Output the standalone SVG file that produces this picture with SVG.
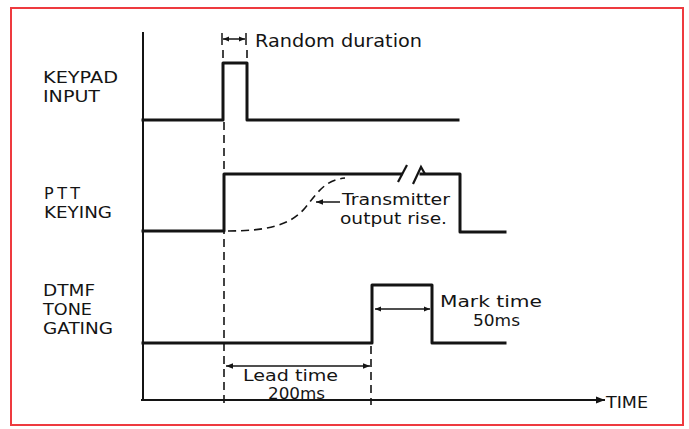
<svg xmlns="http://www.w3.org/2000/svg" width="689" height="429" viewBox="0 0 689 429">
<defs>
<style>
.t{font-family:"DejaVu Sans","Liberation Sans",sans-serif;font-size:16px;fill:#141414;}
.sig{fill:none;stroke:#141414;stroke-width:3;stroke-linejoin:round;stroke-linecap:square;}
.ax{fill:none;stroke:#141414;stroke-width:2;}
.dash{fill:none;stroke:#141414;stroke-width:1.6;stroke-dasharray:8 5;}
.dim{fill:none;stroke:#141414;stroke-width:1.5;}
</style>
<marker id="ah" viewBox="0 0 10 10" refX="10" refY="5" markerWidth="10" markerHeight="6" markerUnits="userSpaceOnUse" orient="auto-start-reverse">
<path d="M0,1 L10,5 L0,9 z" fill="#141414"/>
</marker>
<marker id="ahL" viewBox="0 0 10 10" refX="10" refY="5" markerWidth="14" markerHeight="7" markerUnits="userSpaceOnUse" orient="auto-start-reverse">
<path d="M0,1 L10,5 L0,9 z" fill="#141414"/>
</marker>
<marker id="ahT" viewBox="0 0 10 10" refX="10" refY="5" markerWidth="22" markerHeight="9" markerUnits="userSpaceOnUse" orient="auto">
<path d="M0,1 L10,5 L0,9 z" fill="#141414"/>
</marker>
</defs>
<rect x="0" y="0" width="689" height="429" fill="#ffffff"/>
<rect x="11" y="8" width="672" height="417" fill="none" stroke="#ee3a3f" stroke-width="2"/>

<g id="axes">
<line class="ax" x1="143" y1="32" x2="143" y2="400"/>
<line class="ax" x1="141" y1="400" x2="605" y2="400" marker-end="url(#ahT)"/>
<text class="t" x="606" y="408" textLength="42" lengthAdjust="spacingAndGlyphs">TIME</text>
</g>

<g id="keypad">
<text class="t" x="43" y="83" textLength="75" lengthAdjust="spacingAndGlyphs">KEYPAD</text>
<text class="t" x="43" y="102" textLength="57" lengthAdjust="spacingAndGlyphs">INPUT</text>
<path class="sig" d="M143,120 H223 V63 H247 V120 H458"/>
</g>

<g id="ptt">
<text class="t" x="44" y="199" textLength="36" lengthAdjust="spacing">PTT</text>
<text class="t" x="44" y="218" textLength="68" lengthAdjust="spacingAndGlyphs">KEYING</text>
<path class="sig" d="M143,231 H224 V174 H401"/>
<path class="sig" d="M421,174 H460 V232 H505"/>
<path fill="none" stroke="#141414" stroke-width="2.2" d="M398,182 L407,165"/>
<path fill="none" stroke="#141414" stroke-width="2.2" d="M413,184 L421,167 L425,174"/>
</g>

<g id="dtmf">
<text class="t" x="43" y="296" textLength="52" lengthAdjust="spacingAndGlyphs">DTMF</text>
<text class="t" x="43" y="315" textLength="49" lengthAdjust="spacingAndGlyphs">TONE</text>
<text class="t" x="43" y="334" textLength="70" lengthAdjust="spacingAndGlyphs">GATING</text>
<path class="sig" d="M143,343 H372 V285 H432 V343 H505"/>
</g>

<g id="connectors">
<line class="dash" x1="223" y1="50" x2="223" y2="60"/>
<line class="dash" x1="247" y1="50" x2="247" y2="60"/>
<line class="dash" x1="224" y1="122" x2="224" y2="405"/>
<line class="dash" x1="371" y1="346" x2="371" y2="405"/>
<path class="dash" d="M228,231 C265,231 290,226 305,208 C318,192 325,180 345,178"/>
<line class="dim" x1="222" y1="33" x2="222" y2="45"/>
<line class="dim" x1="246" y1="33" x2="246" y2="45"/>
<line class="dim" x1="223" y1="39" x2="245" y2="39" marker-start="url(#ah)" marker-end="url(#ah)"/>
<line class="dim" x1="340" y1="202" x2="316" y2="202" marker-end="url(#ahL)"/>
<line class="dim" x1="375" y1="309" x2="430" y2="309" marker-start="url(#ah)" marker-end="url(#ah)"/>
<line class="dim" x1="226" y1="366" x2="370" y2="366" marker-start="url(#ahL)" marker-end="url(#ahL)"/>
</g>

<g id="labels">
<text class="t" x="255" y="47" textLength="167" lengthAdjust="spacingAndGlyphs" style="font-size:18px">Random duration</text>
<text class="t" x="342" y="205" textLength="108" lengthAdjust="spacingAndGlyphs">Transmitter</text>
<text class="t" x="340" y="224" textLength="107" lengthAdjust="spacingAndGlyphs">output rise.</text>
<text class="t" x="440" y="307" textLength="102" lengthAdjust="spacingAndGlyphs">Mark time</text>
<text class="t" x="473" y="326" textLength="47" lengthAdjust="spacingAndGlyphs">50ms</text>
<text class="t" x="243" y="381" textLength="95" lengthAdjust="spacingAndGlyphs">Lead time</text>
<text class="t" x="268" y="399" textLength="57" lengthAdjust="spacingAndGlyphs">200ms</text>
</g>
</svg>
